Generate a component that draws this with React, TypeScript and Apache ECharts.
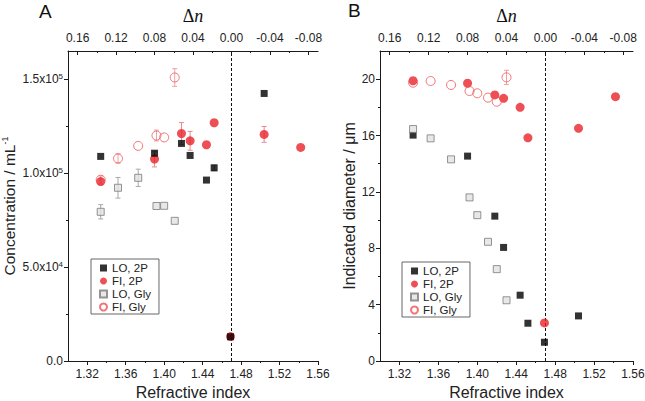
import React, { useEffect, useRef } from 'react';
import * as echarts from 'echarts';

// ---- data ----
const nPart = [1.334, 1.39, 1.418, 1.427, 1.444, 1.452, 1.469, 1.504, 1.542];
const nGly = [1.334, 1.352, 1.373, 1.392, 1.4, 1.411, 1.42, 1.43];

// Panel A: concentration (mL^-1)
const concLO2P = [108900, 110600, 115800, 109400, 96300, 102800, 12900, 142400];
const concFI2P = [95500, 107500, 121100, 117200, 115100, 126800, 13000, 120600, 113700];
const concLOGly = [79400, 92200, 97500, 82500, 82600, 74600];
const concFIGly = [96500, 107800, 114500, 120000, 119000, 150900];
const errConcLO2P = [0, 0, 0, 0, 0, 1500, 0, 0];
const errConcFI2P = [1500, 4200, 5800, 5000, 0, 0, 0, 4200, 0];
const errConcLOGly = [3800, 5500, 4600, 0, 0, 0];
const errConcFIGly = [2000, 2500, 0, 2900, 0, 4700];

// Panel B: indicated diameter (µm)
const diaLO2P = [16.03, 14.54, 10.28, 8.06, 4.67, 2.68, 1.33, 3.2];
const diaFI2P = [19.89, 19.71, 18.88, 18.64, 18.0, 15.84, 2.7, 16.51, 18.76];
const diaLOGly = [16.46, 15.8, 14.31, 11.61, 10.35, 8.46, 6.52, 4.31];
const diaFIGly = [19.75, 19.87, 19.59, 19.16, 19.0, 18.69, 18.4, 20.13];
const errDiaFIGly = [0, 0, 0, 0, 0, 0, 0, 0.5];

// axis ticks
const nMatch = 1.47;
const concMax = 165000;
const diaMax = 22;
const xTicks = [1.32, 1.36, 1.4, 1.44, 1.48, 1.52, 1.56];
const xMinor = [1.34, 1.38, 1.42, 1.46, 1.5, 1.54];
const dnTicks = [0.16, 0.12, 0.08, 0.04, 0, -0.04, -0.08];
const dnMinor = [0.14, 0.1, 0.06, 0.02, -0.02, -0.06];
const concTicks = [0, 50000, 100000, 150000];
const concMinor = [25000, 75000, 125000];
const diaTicks = [0, 4, 8, 12, 16, 20];
const diaMinor = [2, 6, 10, 14, 18];
const legendNames = ['LO, 2P', 'FI, 2P', 'LO, Gly', 'FI, Gly'];

const FONT = '"Liberation Sans", Arial, sans-serif';
const SERIF = '"Liberation Serif", "Times New Roman", serif';
const AX = '#1a1a1a';
const RED = '#e8232a';
const RED_OPEN = '#ee5258';
const GRAY = '#7a7a7a';

function pairs(xs: number[], ys: number[]) {
  return ys.map((y, i) => [xs[i], y]);
}

function errSeries(name: string, gi: number, xs: number[], ys: number[], es: number[], color: string) {
  return {
    type: 'custom',
    name,
    xAxisIndex: gi * 4,
    yAxisIndex: gi * 2,
    silent: true,
    z: 1,
    encode: { x: 0, y: 1 },
    data: ys.map((y, i) => [xs[i], y, es[i]]).filter((d) => d[2] > 0),
    renderItem: (params: any, api: any) => {
      const x = api.value(0);
      const y = api.value(1);
      const e = api.value(2);
      const t = api.coord([x, y + e]);
      const b = api.coord([x, y - e]);
      const c = 2.5;
      const st = { stroke: color, lineWidth: 1 };
      return {
        type: 'group',
        children: [
          { type: 'line', shape: { x1: t[0], y1: t[1], x2: b[0], y2: b[1] }, style: st },
          { type: 'line', shape: { x1: t[0] - c, y1: t[1], x2: t[0] + c, y2: t[1] }, style: st },
          { type: 'line', shape: { x1: b[0] - c, y1: b[1], x2: b[0] + c, y2: b[1] }, style: st },
        ],
      };
    },
  };
}

function scatter(name: string, gi: number, data: number[][], kind: string) {
  const base: any = {
    type: 'scatter',
    name,
    xAxisIndex: gi * 4,
    yAxisIndex: gi * 2,
    data,
    z: 3,
  };
  if (kind === 'LO2P') {
    base.symbol = 'rect';
    base.symbolSize = 7;
    base.itemStyle = { color: '#000' };
  } else if (kind === 'FI2P') {
    base.symbol = 'circle';
    base.symbolSize = 9;
    base.itemStyle = { color: RED };
  } else if (kind === 'LOGly') {
    base.symbol = 'rect';
    base.symbolSize = 7;
    base.itemStyle = { color: '#e2e2e2', borderColor: GRAY, borderWidth: 1 };
  } else {
    base.symbol = 'circle';
    base.symbolSize = 9;
    base.itemStyle = { color: 'rgba(255,255,255,0)', borderColor: RED_OPEN, borderWidth: 1 };
  }
  return base;
}

// vertical dashed line at the index-matching refractive index
function dashSeries(gi: number, ymax: number) {
  return {
    type: 'custom',
    name: 'match' + gi,
    xAxisIndex: gi * 4,
    yAxisIndex: gi * 2,
    silent: true,
    z: 2,
    encode: { x: 0, y: 1 },
    data: [[nMatch, 0, ymax]],
    renderItem: (params: any, api: any) => {
      const b = api.coord([api.value(0), api.value(1)]);
      const t = api.coord([api.value(0), api.value(2)]);
      const x = Math.round(b[0]) + 0.5;
      return {
        type: 'line',
        shape: { x1: x, y1: b[1], x2: x, y2: t[1] },
        style: { stroke: '#111', lineWidth: 1, lineDash: [3, 2] },
      };
    },
  };
}

function xAxes(gi: number) {
  const common = { gridIndex: gi, type: 'value', min: 1.3, max: 1.56, splitLine: { show: false } };
  return [
    {
      ...common,
      position: 'bottom',
      axisLine: { show: true, onZero: false, lineStyle: { color: AX, width: 1 } },
      axisTick: { show: true, customValues: xTicks, length: 4, lineStyle: { color: AX } },
      axisLabel: {
        show: true,
        customValues: xTicks,
        margin: 7,
        fontSize: 12,
        fontFamily: FONT,
        color: '#222',
        formatter: (v: number) => v.toFixed(2),
      },
      name: 'Refractive index',
      nameLocation: 'middle',
      nameGap: 20,
      nameTextStyle: { fontSize: 16, fontFamily: FONT, color: '#222', verticalAlign: 'top' },
    },
    {
      ...common,
      position: 'bottom',
      axisLine: { show: false, onZero: false },
      axisTick: { show: true, customValues: xMinor, length: 2, lineStyle: { color: AX } },
      axisLabel: { show: false },
    },
    {
      gridIndex: gi,
      type: 'value',
      position: 'top',
      inverse: true,
      min: -0.09,
      max: 0.17,
      splitLine: { show: false },
      axisLine: { show: true, onZero: false, lineStyle: { color: AX, width: 1 } },
      axisTick: { show: true, inside: true, customValues: dnTicks, length: 4, lineStyle: { color: AX } },
      axisLabel: {
        show: true,
        customValues: dnTicks,
        margin: 7,
        fontSize: 12,
        fontFamily: FONT,
        color: '#222',
        formatter: (v: number) => {
          const s = v.toFixed(2);
          return s === '-0.00' ? '0.00' : s;
        },
      },
      name: '{d|Δ}{i|n}',
      nameLocation: 'middle',
      nameGap: 26,
      nameTextStyle: {
        rich: {
          d: { fontFamily: SERIF, fontSize: 18, color: '#111' },
          i: { fontFamily: SERIF, fontSize: 18, fontStyle: 'italic', color: '#111' },
        },
      },
    },
    {
      gridIndex: gi,
      type: 'value',
      position: 'top',
      inverse: true,
      min: -0.09,
      max: 0.17,
      splitLine: { show: false },
      axisLine: { show: false, onZero: false },
      axisTick: { show: true, inside: true, customValues: dnMinor, length: 2, lineStyle: { color: AX } },
      axisLabel: { show: false },
    },
  ];
}

function sciLabel(v: number) {
  if (v === 0) return '{m|0.0}';
  const e = Math.floor(Math.log10(v) + 1e-9);
  const m = v / Math.pow(10, e);
  return `{m|${m.toFixed(1)}x10}{s|${e}}`;
}

function yAxes(gi: number) {
  const isA = gi === 0;
  const max = isA ? concMax : diaMax;
  const ticks = isA ? concTicks : diaTicks;
  const minor = isA ? concMinor : diaMinor;
  return [
    {
      gridIndex: gi,
      type: 'value',
      position: 'left',
      min: 0,
      max,
      splitLine: { show: false },
      axisLine: { show: true, onZero: false, lineStyle: { color: AX, width: 1 } },
      axisTick: { show: true, customValues: ticks, length: 4, lineStyle: { color: AX } },
      axisLabel: {
        show: true,
        customValues: ticks,
        margin: 5,
        fontSize: 12,
        fontFamily: FONT,
        color: '#222',
        formatter: isA ? sciLabel : (v: number) => String(v),
        rich: {
          m: { fontSize: 12, fontFamily: FONT, color: '#222', lineHeight: 14 },
          s: { fontSize: 8, fontFamily: FONT, color: '#222', verticalAlign: 'top', lineHeight: 8 },
        },
      },
      name: isA ? '{a|Concentration / mL}{s|-1}' : 'Indicated diameter / μm',
      nameLocation: 'middle',
      nameGap: isA ? 50 : 22,
      nameRotate: 90,
      nameTextStyle: {
        fontSize: 16,
        fontFamily: FONT,
        color: '#222',
        rich: {
          a: { fontSize: 15.5, fontFamily: FONT, color: '#222', lineHeight: 18 },
          s: { fontSize: 9, fontFamily: FONT, color: '#222', verticalAlign: 'top', lineHeight: 9 },
        },
      },
    },
    {
      gridIndex: gi,
      type: 'value',
      position: 'left',
      min: 0,
      max,
      splitLine: { show: false },
      axisLine: { show: false, onZero: false },
      axisTick: { show: true, customValues: minor, length: 2, lineStyle: { color: AX } },
      axisLabel: { show: false },
    },
  ];
}

function legend(left: number, top: number) {
  return {
    left,
    top,
    orient: 'vertical',
    data: legendNames,
    selectedMode: false,
    itemWidth: 7,
    itemHeight: 7,
    itemGap: 1,
    borderColor: '#666',
    borderWidth: 1,
    borderRadius: 0,
    padding: [3, 8, 1, 8],
    textStyle: { fontSize: 11.5, fontFamily: FONT, color: '#222', lineHeight: 12 },
  };
}

export default function App() {
  const ref = useRef<HTMLDivElement>(null);
  useEffect(() => {
    if (!ref.current) return;
    const chart = echarts.init(ref.current, undefined, { renderer: 'svg' });
    const option: any = {
      animation: false,
      backgroundColor: '#fff',
      grid: [
        { left: 68, top: 51, width: 250, height: 310, containLabel: false, outerBoundsMode: 'none' },
        { left: 380, top: 51, width: 253, height: 310, containLabel: false, outerBoundsMode: 'none' },
      ],
      xAxis: [...xAxes(0), ...xAxes(1)],
      yAxis: [...yAxes(0), ...yAxes(1)],
      legend: [legend(91, 259), legend(402, 262)],
      graphic: [
        { type: 'text', left: 39, top: 2, style: { text: 'A', fontSize: 19, fontFamily: FONT, fill: '#111' } },
        { type: 'text', left: 348, top: 1, style: { text: 'B', fontSize: 19, fontFamily: FONT, fill: '#111' } },
      ],
      series: [
        // Panel A
        dashSeries(0, concMax),
        errSeries('errA1', 0, nPart, concLO2P, errConcLO2P, '#9a9a9a'),
        errSeries('errA2', 0, nPart, concFI2P, errConcFI2P, '#e88a8d'),
        errSeries('errA3', 0, nGly, concLOGly, errConcLOGly, '#a8a8a8'),
        errSeries('errA4', 0, nGly, concFIGly, errConcFIGly, '#f0a0a3'),
        scatter('FI, 2P', 0, pairs(nPart, concFI2P), 'FI2P'),
        scatter('LO, 2P', 0, pairs(nPart, concLO2P), 'LO2P'),
        scatter('LO, Gly', 0, pairs(nGly, concLOGly), 'LOGly'),
        scatter('FI, Gly', 0, pairs(nGly, concFIGly), 'FIGly'),
        // Panel B
        dashSeries(1, diaMax),
        errSeries('errB4', 1, nGly, diaFIGly, errDiaFIGly, '#f0a0a3'),
        scatter('FI, 2P', 1, pairs(nPart, diaFI2P), 'FI2P'),
        scatter('LO, 2P', 1, pairs(nPart, diaLO2P), 'LO2P'),
        scatter('LO, Gly', 1, pairs(nGly, diaLOGly), 'LOGly'),
        scatter('FI, Gly', 1, pairs(nGly, diaFIGly), 'FIGly'),
      ],
    };
    chart.setOption(option);
    return () => chart.dispose();
  }, []);
  return <div ref={ref} style={{ width: 645, height: 401, position: 'absolute', left: 0, top: 0 }} />;
}
